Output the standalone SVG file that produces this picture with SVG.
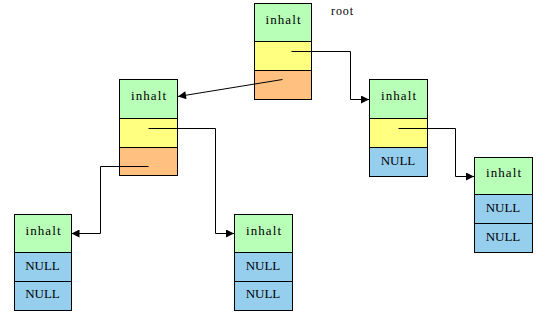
<svg xmlns="http://www.w3.org/2000/svg" width="547" height="316" viewBox="0 0 547 316">
<style>
.n rect{stroke:#000;stroke-width:1}
.g{fill:#B8FFB8}
.y{fill:#FFFF80}
.o{fill:#FFC080}
.b{fill:#96CEEE}
text{font-family:"Liberation Serif","Times New Roman",serif;font-size:13px;fill:#000;text-anchor:middle}
.c path{fill:none;stroke:#000;stroke-width:1}
</style>
<defs>
<marker id="ah" viewBox="0 0 10 10" refX="10" refY="5" markerWidth="9" markerHeight="8" markerUnits="userSpaceOnUse" orient="auto">
<path d="M0,0 L10,5 L0,10 z" fill="#000"/>
</marker>
</defs>
<rect width="547" height="316" fill="#fff"/>
<g id="root" class="n">
<rect class="g" x="254.5" y="3.5" width="57" height="38"/>
<rect class="y" x="254.5" y="41.5" width="57" height="29"/>
<rect class="o" x="254.5" y="70.5" width="57" height="29"/>
<text x="283" y="24" textLength="35" lengthAdjust="spacing">inhalt</text>
</g>
<text x="331" y="15" style="text-anchor:start;font-size:12px" textLength="22">root</text>
<g id="nodeA" class="n">
<rect class="g" x="119.5" y="79.5" width="58" height="39"/>
<rect class="y" x="119.5" y="118.5" width="58" height="29"/>
<rect class="o" x="119.5" y="147.5" width="58" height="28"/>
<text x="148.5" y="100" textLength="35" lengthAdjust="spacing">inhalt</text>
</g>
<g id="nodeB" class="n">
<rect class="g" x="369.5" y="79.5" width="58" height="39"/>
<rect class="y" x="369.5" y="118.5" width="58" height="29"/>
<rect class="b" x="369.5" y="147.5" width="58" height="29"/>
<text x="398.5" y="100" textLength="35" lengthAdjust="spacing">inhalt</text>
<text x="398" y="164.5">NULL</text>
</g>
<g id="nodeE" class="n">
<rect class="g" x="474.5" y="157.5" width="58" height="37"/>
<rect class="b" x="474.5" y="194.5" width="58" height="29"/>
<rect class="b" x="474.5" y="223.5" width="58" height="29"/>
<text x="503.5" y="177" textLength="35" lengthAdjust="spacing">inhalt</text>
<text x="503" y="211.5">NULL</text>
<text x="503" y="240.5">NULL</text>
</g>
<g id="nodeD" class="n">
<rect class="g" x="14.5" y="214.5" width="57" height="38"/>
<rect class="b" x="14.5" y="252.5" width="57" height="29"/>
<rect class="b" x="14.5" y="281.5" width="57" height="29"/>
<text x="43" y="235" textLength="35" lengthAdjust="spacing">inhalt</text>
<text x="42.5" y="269.5">NULL</text>
<text x="42.5" y="298">NULL</text>
</g>
<g id="nodeC" class="n">
<rect class="g" x="234.5" y="214.5" width="58" height="38"/>
<rect class="b" x="234.5" y="252.5" width="58" height="29"/>
<rect class="b" x="234.5" y="281.5" width="58" height="29"/>
<text x="263.5" y="235" textLength="35" lengthAdjust="spacing">inhalt</text>
<text x="263" y="269.5">NULL</text>
<text x="263" y="298">NULL</text>
</g>
<g id="connectors" class="c">
<path d="M291.5,51.5 H350.5 V99.5 H369" marker-end="url(#ah)"/>
<path d="M282.5,79.5 L178,96.5" marker-end="url(#ah)"/>
<path d="M148.5,128.5 H215.5 V233.5 H234" marker-end="url(#ah)"/>
<path d="M148.5,166.5 H100.5 V233.5 H71.5" marker-end="url(#ah)"/>
<path d="M398.5,128.5 H455.5 V176.5 H474" marker-end="url(#ah)"/>
</g>
</svg>
